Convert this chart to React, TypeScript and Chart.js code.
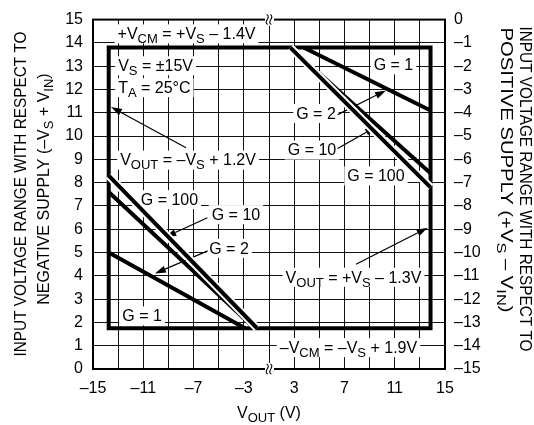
import React, { useEffect, useRef } from 'react';
import { Chart, registerables } from 'chart.js';

Chart.register(...registerables);

const FONT = "'Liberation Sans', Arial, sans-serif";

// ---- data (x: V_OUT in volts, y: input range w.r.t. negative supply in volts) ----
const boxVout = [-13.75, 13.85, 13.85, -13.75, -13.75];
const boxVin = [13.8, 13.8, 1.75, 1.75, 13.8];

const g100LeftVout = [-13.75, -1.95];
const g100LeftVin = [8.3, 1.75];
const g10LeftVout = [-13.75, -2.15];
const g10LeftVin = [7.6, 1.75];
const g2LeftVout = [-13.75, -2.9];
const g2LeftVin = [5.0, 1.75];

const g1RightVout = [3.75, 13.85];
const g1RightVin = [13.8, 11.1];
const g10RightVout = [2.7, 13.85];
const g10RightVin = [13.8, 8.4];
const g100RightVout = [2.7, 13.85];
const g100RightVin = [13.8, 7.8];

const xTickLabels = [-15, -11, -7, -3, 3, 7, 11, 15];
const yLeftMin = 0;
const yLeftMax = 15;
const yRightMin = -15;
const yRightMax = 0;

// ---- annotations ----
const labelTexts = [
  '+V_{CM} = +V_{S} – 1.4V',
  'V_{S} = ±15V',
  'T_{A} = 25°C',
  'V_{OUT} = –V_{S} + 1.2V',
  'G = 100',
  'G = 10',
  'G = 2',
  'G = 1',
  'G = 1',
  'G = 2',
  'G = 10',
  'G = 100',
  'V_{OUT} = +V_{S} – 1.3V',
  '–V_{CM} = –V_{S} + 1.9V',
];
const labelVout = [-7.56, -13.0, -13.0, -7.44, -8.92, -3.63, -4.18, -11.1, 10.9, 4.74, 4.42, 9.51, 7.72, 7.32];
const labelVin = [14.41, 13.04, 12.1, 8.99, 7.29, 6.65, 5.2, 2.3, 13.08, 10.99, 9.42, 8.31, 3.96, 0.94];
const labelAlign = ['center', 'left', 'left', 'center', 'center', 'center', 'center', 'center', 'center', 'center', 'center', 'center', 'center', 'center'];

const arrowFromVout = [-7.6, -5.9, -5.88, 6.46, 6.46, 7.92];
const arrowFromVin = [9.5, 6.49, 5.07, 10.92, 9.47, 4.5];
const arrowToVout = [-13.57, -9.25, -10.07, 10.31, 9.51, 13.62];
const arrowToVin = [11.25, 5.66, 4.1, 11.96, 10.4, 6.06];

// axis break between -1 V and +1 V
const toAxis = (v: number) => (v < 0 ? v + 1 : v - 1);
const fromAxis = (a: number) => (a < 0 ? a - 1 : a + 1);
const fmt = (n: number) => (n < 0 ? '–' + Math.abs(n) : String(n));

type Seg = { t: string; sub: boolean };
function parseRich(s: string): Seg[] {
  const out: Seg[] = [];
  const re = /_\{([^}]*)\}/g;
  let last = 0;
  let m: RegExpExecArray | null;
  while ((m = re.exec(s))) {
    if (m.index > last) out.push({ t: s.slice(last, m.index), sub: false });
    out.push({ t: m[1], sub: true });
    last = re.lastIndex;
  }
  if (last < s.length) out.push({ t: s.slice(last), sub: false });
  return out;
}
function measureRich(ctx: CanvasRenderingContext2D, segs: Seg[], size: number, sub: number) {
  let w = 0;
  for (const sg of segs) {
    ctx.font = `${sg.sub ? sub : size}px ${FONT}`;
    w += ctx.measureText(sg.t).width;
  }
  return w;
}
function drawRich(ctx: CanvasRenderingContext2D, segs: Seg[], x: number, y: number, size: number, sub: number) {
  ctx.textBaseline = 'alphabetic';
  ctx.textAlign = 'left';
  const base = y + size * 0.36;
  let cx = x;
  for (const sg of segs) {
    ctx.font = `${sg.sub ? sub : size}px ${FONT}`;
    ctx.fillText(sg.t, cx, sg.sub ? base + 4 : base);
    cx += ctx.measureText(sg.t).width;
  }
}

function drawArrow(ctx: CanvasRenderingContext2D, x1: number, y1: number, x2: number, y2: number) {
  const ang = Math.atan2(y2 - y1, x2 - x1);
  const hl = 11;
  const hw = 3.5;
  const bx = x2 - hl * Math.cos(ang);
  const by = y2 - hl * Math.sin(ang);
  ctx.beginPath();
  ctx.moveTo(x1, y1);
  ctx.lineTo(bx, by);
  ctx.lineWidth = 1.2;
  ctx.strokeStyle = '#000';
  ctx.stroke();
  ctx.beginPath();
  ctx.moveTo(x2, y2);
  ctx.lineTo(bx + hw * Math.sin(ang), by - hw * Math.cos(ang));
  ctx.lineTo(bx - hw * Math.sin(ang), by + hw * Math.cos(ang));
  ctx.closePath();
  ctx.fillStyle = '#000';
  ctx.fill();
}

function drawBreak(ctx: CanvasRenderingContext2D, px: number, py: number) {
  ctx.fillStyle = '#fff';
  ctx.fillRect(px - 4, py - 6, 9, 12);
  ctx.strokeStyle = '#000';
  ctx.lineWidth = 1.1;
  for (const dx of [-1.8, 1.8]) {
    ctx.beginPath();
    ctx.moveTo(px + dx - 0.5, py - 5);
    ctx.bezierCurveTo(px + dx + 4.5, py - 2.5, px + dx - 4.5, py + 2.5, px + dx + 0.5, py + 5);
    ctx.stroke();
  }
}

function drawTitle(ctx: CanvasRenderingContext2D, text: string, cx: number, cy: number, rot: number, fitLen: number) {
  const segs = parseRich(text);
  ctx.save();
  ctx.translate(cx, cy);
  ctx.rotate(rot);
  const w = measureRich(ctx, segs, 16, 13);
  const s = fitLen > 0 ? fitLen / w : 1;
  ctx.scale(s, 1);
  ctx.fillStyle = '#000';
  drawRich(ctx, segs, -w / 2, 0, 16, 13);
  ctx.restore();
}

const annotPlugin = {
  id: 'annot',
  beforeDatasetsDraw(chart: any) {
    const { ctx, chartArea: ca } = chart;
    const xs = chart.scales.x;
    const ys = chart.scales.y;
    ctx.save();
    // plot frame
    ctx.strokeStyle = '#000';
    ctx.lineWidth = 2;
    ctx.strokeRect(ca.left, ca.top, ca.right - ca.left, ca.bottom - ca.top);
    // break marks
    const bx = xs.getPixelForValue(0);
    drawBreak(ctx, bx, ca.top);
    drawBreak(ctx, bx, ca.bottom);
    // labels
    labelTexts.forEach((txt, i) => {
      const segs = parseRich(txt);
      const w = measureRich(ctx, segs, 16, 13);
      const px = xs.getPixelForValue(toAxis(labelVout[i]));
      const py = ys.getPixelForValue(labelVin[i]);
      const left = labelAlign[i] === 'left' ? px : px - w / 2;
      ctx.fillStyle = '#fff';
      ctx.fillRect(left - 3, py - 9, w + 6, 19);
      ctx.fillStyle = '#000';
      drawRich(ctx, segs, left, py, 16, 13);
    });
    // arrows
    arrowFromVout.forEach((v, i) => {
      drawArrow(
        ctx,
        xs.getPixelForValue(toAxis(v)),
        ys.getPixelForValue(arrowFromVin[i]),
        xs.getPixelForValue(toAxis(arrowToVout[i])),
        ys.getPixelForValue(arrowToVin[i])
      );
    });
    ctx.restore();
  },
  afterDraw(chart: any) {
    const { ctx, chartArea: ca } = chart;
    ctx.save();
    drawTitle(ctx, 'INPUT VOLTAGE RANGE WITH RESPECT TO', 20, 194, -Math.PI / 2, 325);
    drawTitle(ctx, 'NEGATIVE SUPPLY (–V_{S} + V_{IN})', 43, 189, -Math.PI / 2, 0);
    drawTitle(ctx, 'INPUT VOLTAGE RANGE WITH RESPECT TO', 526, 189, Math.PI / 2, 325);
    drawTitle(ctx, 'POSITIVE SUPPLY (+V_{S} – V_{IN})', 507, 170, Math.PI / 2, 285);
    drawTitle(ctx, 'V_{OUT} (V)', (ca.left + ca.right) / 2, 412, 0, 0);
    ctx.restore();
  },
};

function mk(xs: number[], ys: number[], color: string, width: number, order: number, cap: string = 'butt') {
  return {
    data: xs.map((v, i) => ({ x: toAxis(v), y: ys[i] })),
    borderColor: color,
    borderWidth: width,
    pointRadius: 0,
    fill: false,
    tension: 0,
    borderCapStyle: cap,
    borderJoinStyle: 'miter',
    order,
  };
}

export default function App() {
  const ref = useRef<HTMLCanvasElement>(null);
  useEffect(() => {
    document.body.style.margin = '0';
    const canvas = ref.current;
    if (!canvas) return;
    const chart = new Chart(canvas, {
      type: 'line',
      data: {
        datasets: [
          mk(boxVout, boxVin, '#000', 4, 20, 'square'),
          mk(g10LeftVout, g10LeftVin, '#000', 4, 10),
          mk(g100LeftVout, g100LeftVin, '#fff', 8, 9),
          mk(g100LeftVout, g100LeftVin, '#000', 4, 8),
          mk(g2LeftVout, g2LeftVin, '#000', 4, 7),
          mk(g1RightVout, g1RightVin, '#000', 4, 6),
          mk(g10RightVout, g10RightVin, '#000', 4, 5),
          mk(g100RightVout, g100RightVin, '#fff', 8, 4),
          mk(g100RightVout, g100RightVin, '#000', 4, 3),
        ] as any,
      },
      options: {
        animation: false,
        responsive: false,
        devicePixelRatio: 1,
        layout: { padding: { top: 17, left: 0, right: 0, bottom: 0 } },
        plugins: { legend: { display: false }, tooltip: { enabled: false }, title: { display: false } },
        scales: {
          x: {
            type: 'linear',
            min: -14,
            max: 14,
            grid: { color: '#111', lineWidth: 1, drawTicks: false },
            border: { display: false },
            ticks: {
              stepSize: 2,
              autoSkip: false,
              maxRotation: 0,
              padding: 10,
              color: '#000',
              font: { size: 16, family: FONT },
              callback: (v: any) => {
                const a = Math.round(Number(v));
                if (a === 0) return '';
                const real = fromAxis(a);
                return xTickLabels.includes(real) ? fmt(real) : '';
              },
            },
            afterFit: (s: any) => {
              s.height = 56;
            },
          },
          y: {
            type: 'linear',
            position: 'left',
            min: yLeftMin,
            max: yLeftMax,
            grid: { color: '#111', lineWidth: 1, drawTicks: false },
            border: { display: false },
            ticks: { stepSize: 1, padding: 10, color: '#000', font: { size: 16, family: FONT } },
            afterFit: (s: any) => {
              s.width = 93;
            },
          },
          y2: {
            type: 'linear',
            position: 'right',
            min: yRightMin,
            max: yRightMax,
            grid: { display: false, drawTicks: false },
            border: { display: false },
            ticks: {
              stepSize: 1,
              padding: 9,
              color: '#000',
              font: { size: 16, family: FONT },
              callback: (v: any) => fmt(Math.round(Number(v))),
            },
            afterFit: (s: any) => {
              s.width = 89;
            },
          },
        },
      } as any,
      plugins: [annotPlugin],
    });
    return () => chart.destroy();
  }, []);
  return <canvas ref={ref} width={534} height={425} style={{ display: 'block' }} />;
}
